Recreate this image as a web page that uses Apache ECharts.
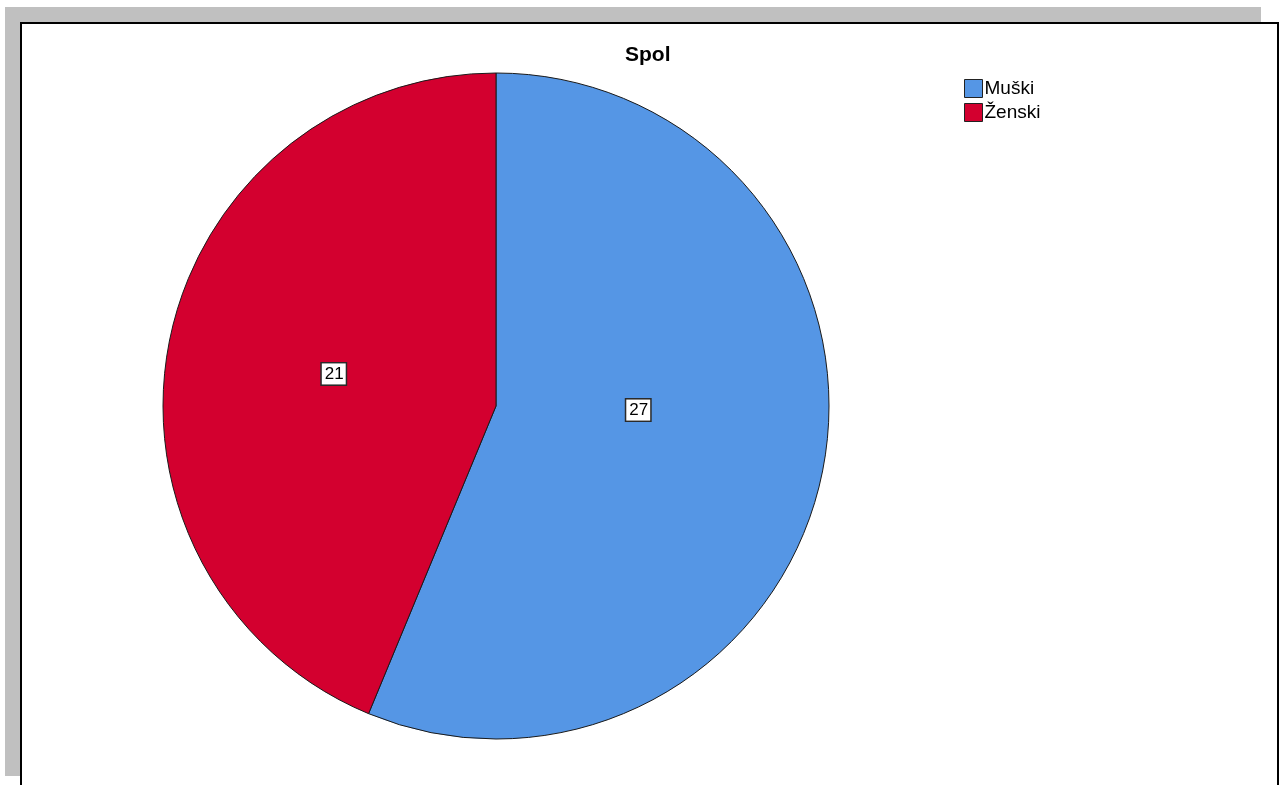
<!DOCTYPE html>
<html>
<head>
<meta charset="utf-8">
<script src="https://cdn.jsdelivr.net/npm/echarts@6/dist/echarts.min.js"></script>
<style>
html,body{margin:0;padding:0;background:#fff;}
#chart{width:1279px;height:785px;}
</style>
</head>
<body>
<div id="chart"></div>
<script>
var titleText = 'Spol';
var categories = ['Muški', 'Ženski'];
var counts = [27, 21];
var colors = ['#5596e5', '#d3002f'];

var chart = echarts.init(document.getElementById('chart'), null, {renderer: 'canvas'});

var labelOffsets = [[-24, -29], [4, 1]];

var option = {
  animation: false,
  backgroundColor: '#ffffff',
  title: {
    text: titleText,
    left: 625,
    top: 45,
    padding: 0,
    textStyle: {
      fontFamily: 'Liberation Sans, Arial, sans-serif',
      fontSize: 21,
      fontWeight: 'bold',
      color: '#000'
    }
  },
  legend: {
    orient: 'vertical',
    left: 964,
    top: 79,
    padding: 0,
    itemWidth: 18,
    itemHeight: 18,
    itemGap: 5,
    icon: 'rect',
    data: categories,
    itemStyle: { borderColor: '#222', borderWidth: 1 },
    textStyle: {
      fontFamily: 'Liberation Sans, Arial, sans-serif',
      fontSize: 19,
      color: '#000',
      padding: [0, 0, 0, -3]
    }
  },
  graphic: [
    { type: 'rect', z: -10, shape: { x: 5, y: 7, width: 1256, height: 15 }, style: { fill: '#c0c0c0' } },
    { type: 'rect', z: -10, shape: { x: 5, y: 7, width: 15, height: 769 }, style: { fill: '#c0c0c0' } },
    { type: 'rect', z: -9, shape: { x: 21, y: 23, width: 1257, height: 800 }, style: { fill: '#ffffff', stroke: '#000', lineWidth: 2 } }
  ],
  series: [{
    type: 'pie',
    center: [496, 406],
    radius: 333,
    startAngle: 90,
    clockwise: true,
    color: colors,
    itemStyle: { borderColor: '#1a1a1a', borderWidth: 1 },
    emphasis: { disabled: true },
    labelLine: { show: false },
    label: {
      show: true,
      position: 'inside',
      formatter: '{c}',
      fontFamily: 'Liberation Sans, Arial, sans-serif',
      fontSize: 17,
      lineHeight: 18,
      color: '#000',
      backgroundColor: '#ffffff',
      borderColor: '#2a2a2a',
      borderWidth: 1.5,
      padding: [2, 2, 1, 3]
    },
    data: categories.map(function (name, i) {
      return { name: name, value: counts[i], label: { offset: labelOffsets[i] } };
    })
  }]
};
chart.setOption(option);
</script>
</body>
</html>
